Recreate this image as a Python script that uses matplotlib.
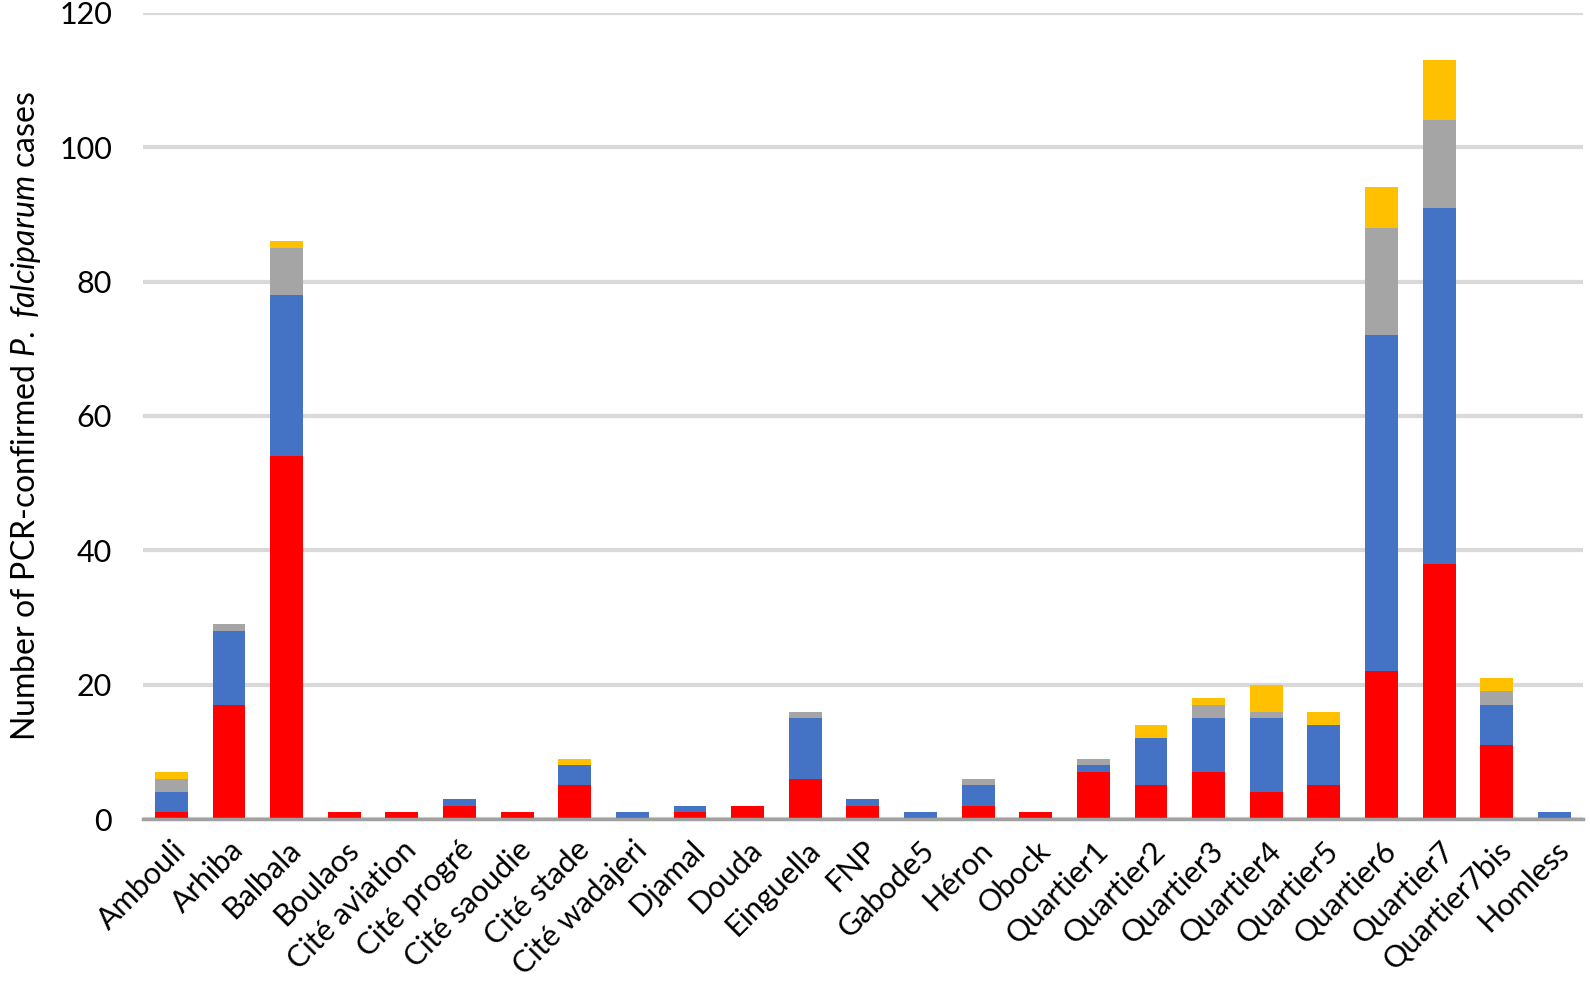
import numpy as np
import matplotlib.pyplot as plt

plt.rcParams['font.family'] = ['Lato', 'DejaVu Sans']
plt.rcParams['mathtext.fontset'] = 'custom'
plt.rcParams['mathtext.it'] = 'Lato:italic'
plt.rcParams['mathtext.rm'] = 'Lato'

districts = ['Ambouli', 'Arhiba', 'Balbala', 'Boulaos', 'Cité aviation', 'Cité progré',
             'Cité saoudie', 'Cité stade', 'Cité wadajeri', 'Djamal', 'Douda', 'Einguella',
             'FNP', 'Gabode5', 'Héron', 'Obock', 'Quartier1', 'Quartier2', 'Quartier3',
             'Quartier4', 'Quartier5', 'Quartier6', 'Quartier7', 'Quartier7bis', 'Homless']

red = [1, 17, 54, 1, 1, 2, 1, 5, 0, 1, 2, 6, 2, 0, 2, 1, 7, 5, 7, 4, 5, 22, 38, 11, 0]
blue = [3, 11, 24, 0, 0, 1, 0, 3, 1, 1, 0, 9, 1, 1, 3, 0, 1, 7, 8, 11, 9, 50, 53, 6, 1]
gray = [2, 1, 7, 0, 0, 0, 0, 0, 0, 0, 0, 1, 0, 0, 1, 0, 1, 0, 2, 1, 0, 16, 13, 2, 0]
yellow = [1, 0, 1, 0, 0, 0, 0, 1, 0, 0, 0, 0, 0, 0, 0, 0, 0, 2, 1, 4, 2, 6, 9, 2, 0]

colors = ['#ff0000', '#4472c4', '#a5a5a5', '#ffc000']

fig = plt.figure(figsize=(15.9, 9.83), dpi=100)
ax = fig.add_axes([0.0897, 0.1668, 0.906, 0.8202])

x = np.arange(len(districts))
bottom = np.zeros(len(districts))
for vals, c in zip([red, blue, gray, yellow], colors):
    ax.bar(x, vals, width=0.57, bottom=bottom, color=c, zorder=3)
    bottom += np.array(vals)

ax.set_xlim(-0.5, len(districts) - 0.5)
ax.set_ylim(0, 120)
ax.set_yticks(range(0, 121, 20))
ax.yaxis.grid(True, color='#d9d9d9', linewidth=3, zorder=0)
for s in ['top', 'right', 'left']:
    ax.spines[s].set_visible(False)
ax.spines['bottom'].set_color('#a0a0a0')
ax.spines['bottom'].set_linewidth(2.5)
ax.spines['bottom'].set_zorder(4)
ax.tick_params(axis='both', length=0, labelsize=22, colors='black')
ax.tick_params(axis='y', pad=22)
ax.tick_params(axis='x', pad=12)
ax.set_xticks(x)
ax.set_xticklabels(districts, rotation=45, ha='right', rotation_mode='anchor')

ax.set_ylabel('Number of PCR-confirmed $\\mathit{P.}$ $\\mathit{falciparum}$ cases',
              fontsize=23, labelpad=12)

fig.savefig('out.png', dpi=100)
